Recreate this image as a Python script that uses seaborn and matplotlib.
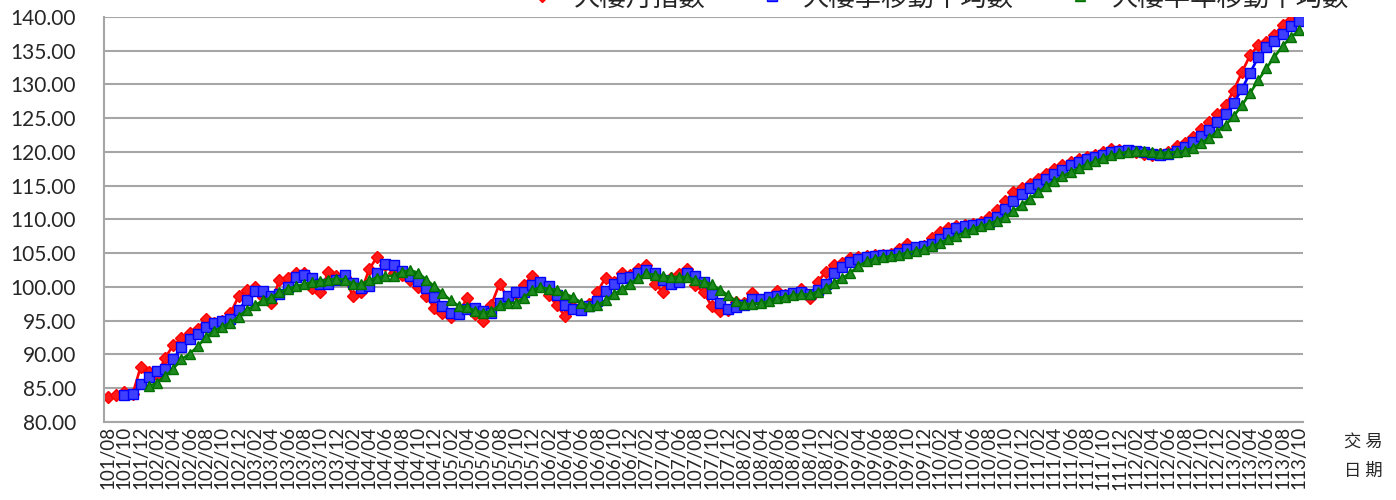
import numpy as np
import pandas as pd
import matplotlib
matplotlib.use("Agg")
import matplotlib.pyplot as plt
import seaborn as sns

# 交易日期 (民國年/月), 101/08 .. 113/10
months = pd.period_range("2012-08", "2024-10", freq="M")
month_labels = [f"{p.year - 1911}/{p.month:02d}" for p in months]

# 大樓月指數 (every month)
monthly_index = [
    83.7, 84.0, 84.4, 84.1, 88.2, 87.4, 86.9, 89.5, 91.4, 92.4,
    93.2, 93.8, 95.3, 94.7, 95.0, 96.1, 98.6, 99.6, 100.0, 98.5,
    97.6, 101.0, 101.4, 102.0, 102.1, 99.8, 99.3, 102.2, 101.6, 101.5,
    98.7, 99.2, 102.6, 104.5, 103.2, 102.0, 101.8, 101.0, 100.0, 98.6,
    96.9, 96.1, 95.5, 96.3, 98.3, 96.0, 95.0, 97.4, 100.5, 98.3,
    99.0, 100.3, 101.7, 100.2, 98.8, 97.3, 95.7, 97.1, 97.0, 97.5,
    99.3, 101.4, 100.8, 102.0, 101.8, 102.6, 103.2, 100.5, 99.3, 101.3,
    101.9, 102.7, 100.3, 99.2, 97.2, 96.5, 96.6, 97.8, 97.6, 99.1,
    98.0, 98.3, 99.4, 98.8, 99.0, 99.7, 98.3, 100.8, 102.2, 103.3,
    103.6, 104.3, 104.5, 104.6, 104.7, 104.7, 104.9, 105.6, 106.3, 105.8,
    106.1, 107.2, 108.1, 108.8, 109.1, 109.2, 109.3, 109.6, 110.3, 111.4,
    112.7, 114.0, 114.7, 115.3, 116.0, 116.8, 117.5, 118.0, 118.5, 119.0,
    119.2, 119.6, 120.0, 120.4, 120.3, 120.2, 120.0, 119.7, 119.5, 119.7,
    120.0, 120.9, 121.4, 122.2, 123.4, 124.4, 125.6, 126.9, 129.1, 131.8,
    134.3, 135.8, 136.3, 137.4, 138.8, 139.5, 139.9,
]

# 大樓季移動平均數 (starts at 101/10)
quarter_avg = [
    84.0, 84.2, 85.6, 86.6, 87.5, 87.9, 89.3, 91.1, 92.3, 93.1,
    94.1, 94.6, 95.0, 95.3, 96.6, 98.1, 99.4, 99.4, 98.7, 99.0,
    100.0, 101.5, 101.8, 101.3, 100.4, 100.4, 101.0, 101.8, 100.6, 99.8,
    100.2, 102.1, 103.4, 103.2, 102.3, 101.6, 100.9, 99.9, 98.5, 97.2,
    96.2, 96.0, 96.7, 96.9, 96.4, 96.1, 97.6, 98.7, 99.3, 99.2,
    100.3, 100.7, 100.2, 98.8, 97.3, 96.7, 96.6, 97.2, 97.9, 99.4,
    100.5, 101.4, 101.5, 102.1, 102.5, 102.1, 101.0, 100.4, 100.8, 102.0,
    101.6, 100.7, 98.9, 97.6, 96.8, 97.0, 97.3, 98.2, 98.2, 98.5,
    98.6, 98.8, 99.1, 99.2, 99.0, 99.6, 100.4, 102.1, 103.0, 103.7,
    104.1, 104.5, 104.6, 104.7, 104.8, 105.1, 105.6, 105.9, 106.1, 106.4,
    107.1, 108.0, 108.7, 109.0, 109.2, 109.4, 109.7, 110.4, 111.5, 112.7,
    113.8, 114.7, 115.3, 116.0, 116.8, 117.4, 118.0, 118.5, 118.9, 119.3,
    119.6, 120.0, 120.2, 120.3, 120.2, 120.0, 119.7, 119.6, 119.7, 120.2,
    120.8, 121.5, 122.3, 123.3, 124.5, 125.6, 127.2, 129.3, 131.7, 134.0,
    135.5, 136.5, 137.5, 138.6, 139.4,
]

# 大樓半年移動平均數 (starts at 102/01)
half_year_avg = [
    85.3, 85.8, 86.8, 87.9, 89.3, 90.1, 91.2, 92.6, 93.5, 94.1,
    94.7, 95.6, 96.6, 97.3, 98.0, 98.4, 99.2, 99.7, 100.1, 100.4,
    100.7, 100.9, 101.1, 101.2, 101.1, 100.5, 100.4, 101.0, 101.4, 101.6,
    101.7, 102.2, 102.5, 102.1, 101.1, 100.1, 99.1, 98.0, 97.2, 97.0,
    96.5, 96.2, 96.4, 97.3, 97.6, 97.7, 98.4, 99.5, 100.0, 99.7,
    99.6, 99.0, 98.5, 97.7, 97.2, 97.3, 98.0, 98.9, 99.7, 100.5,
    101.3, 102.0, 101.8, 101.6, 101.5, 101.5, 101.5, 101.0, 100.8, 100.4,
    99.6, 98.8, 97.9, 97.5, 97.5, 97.6, 97.9, 98.4, 98.5, 98.8,
    98.9, 98.9, 99.3, 99.8, 100.6, 101.3, 102.1, 103.1, 103.8, 104.2,
    104.4, 104.6, 104.8, 105.1, 105.3, 105.6, 106.0, 106.5, 107.1, 107.5,
    108.1, 108.6, 109.0, 109.4, 109.8, 110.4, 111.2, 112.1, 113.1, 114.0,
    114.9, 115.7, 116.4, 117.0, 117.6, 118.2, 118.6, 119.1, 119.5, 119.8,
    120.0, 120.1, 120.1, 120.0, 119.9, 119.9, 120.0, 120.2, 120.6, 121.3,
    122.1, 123.0, 124.0, 125.3, 126.9, 128.7, 130.6, 132.4, 134.1, 135.7,
    137.0, 138.0,
]

series_names = ["大樓月指數", "大樓季移動平均數", "大樓半年移動平均數"]

sns.set_style("white")
plt.rcParams["font.family"] = ["Noto Sans CJK TC", "DejaVu Sans"]

n = len(month_labels)
frames = {}
for name, vals in zip(series_names, [monthly_index, quarter_avg, half_year_avg]):
    start = n - len(vals)
    frames[name] = pd.DataFrame({"pos": np.arange(start, n), "value": vals})

styles = {
    "大樓月指數": dict(color="#ff0000", marker="D", markersize=5.8,
                  markerfacecolor="#ff1a1a", markeredgecolor="#ff0000"),
    "大樓季移動平均數": dict(color="#0000ff", marker="s", markersize=7,
                     markerfacecolor="#3f3fff", markeredgecolor="#0000ff"),
    "大樓半年移動平均數": dict(color="#008000", marker="^", markersize=6.5,
                      markerfacecolor="#1f8a1f", markeredgecolor="#007000"),
}

fig = plt.figure(figsize=(13.96, 5.0), dpi=100)
ax = fig.add_axes([104 / 1396, 78 / 500, 1199 / 1396, 405 / 500])

for name in series_names:
    sns.lineplot(data=frames[name], x="pos", y="value", ax=ax, errorbar=None,
                 linewidth=1.9, markeredgewidth=1, label=name, **styles[name])

if ax.get_legend() is not None:
    ax.get_legend().remove()

ax.set_xlim(-0.5, n - 0.5)
ax.set_ylim(80, 140)
ax.set_yticks(np.arange(80, 141, 5))
ax.set_yticklabels([f"{v:.2f}" for v in np.arange(80, 141, 5)],
                   fontsize=15, family=["Lato", "DejaVu Sans"])
ax.set_xticks(range(0, n, 2))
ax.set_xticklabels(month_labels[::2], rotation=90, fontsize=13.5,
                   family=["Lato", "DejaVu Sans"])
ax.tick_params(axis="y", length=0, pad=20)
ax.tick_params(axis="x", length=0, pad=3)
ax.set_xlabel("")
ax.set_ylabel("")

ax.yaxis.grid(True, color="#a6a6a6", linewidth=1.5)
ax.xaxis.grid(False)
ax.set_axisbelow(True)
for side in ["top", "right"]:
    ax.spines[side].set_visible(False)
for side in ["left", "bottom"]:
    ax.spines[side].set_color("#a6a6a6")
    ax.spines[side].set_linewidth(1.5)

# legend sits above the plot area and is partly cut by the top edge, as in the source chart
handles, labels = ax.get_legend_handles_labels()
fig.legend(handles, labels, loc="center", bbox_to_anchor=(0.668, 1.004),
           ncol=3, frameon=False, fontsize=19, handlelength=2.0,
           handletextpad=0.2, columnspacing=1.5)

fig.text(1363 / 1396, 1 - 443 / 500, "交 易", fontsize=12.5, ha="center", va="center")
fig.text(1363 / 1396, 1 - 471 / 500, "日 期", fontsize=12.5, ha="center", va="center")

fig.savefig("out.png", dpi=100)
